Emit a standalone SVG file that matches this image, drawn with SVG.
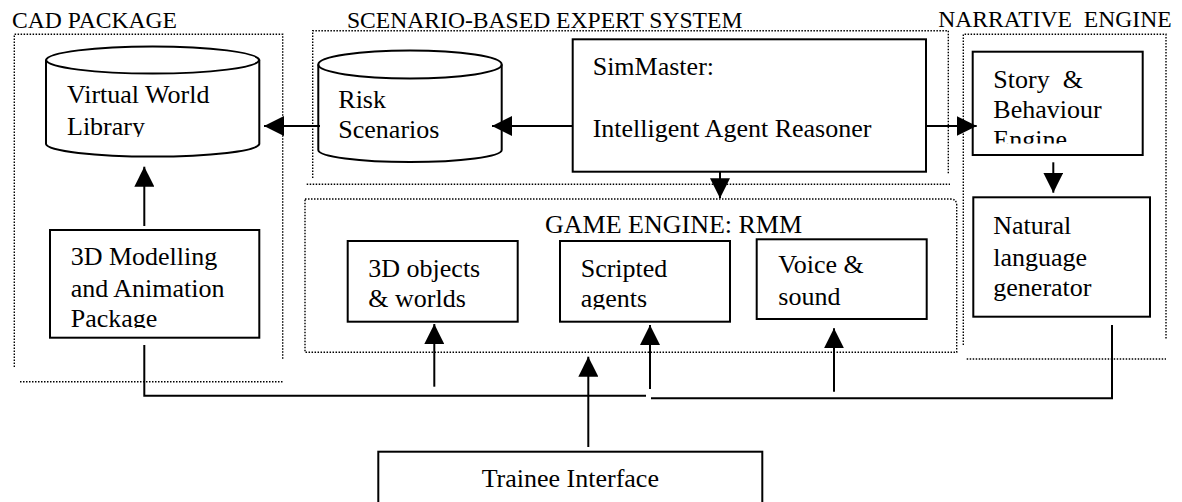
<svg xmlns="http://www.w3.org/2000/svg" width="1182" height="502" viewBox="0 0 1182 502" font-family="'Liberation Serif','Times New Roman',serif">
<style>
text{font-family:"Liberation Serif","Times New Roman",serif;fill:#000}
.h{font-size:23.6px}
.t{font-size:26px}
.box{fill:#fff;stroke:#000;stroke-width:2}
.dot{fill:none;stroke:#000;stroke-width:1.4;stroke-dasharray:1.5 1.5}
.ln{fill:none;stroke:#000;stroke-width:2}
</style>
<defs>
<marker id="ah" markerUnits="userSpaceOnUse" markerWidth="20" markerHeight="20" refX="20" refY="10" orient="auto">
<path d="M0,0 L20,10 L0,20 z" fill="#000"/>
</marker>
<clipPath id="cVWL"><rect x="40" y="40" width="230" height="97"/></clipPath>
<clipPath id="cMod"><rect x="50" y="230" width="210" height="98"/></clipPath>
<clipPath id="cStory"><rect x="972" y="52" width="170" height="91.5"/></clipPath>
<clipPath id="cScr"><rect x="560" y="241" width="170" height="68.5"/></clipPath>
</defs>

<g id="groups">
<text class="h" x="12" y="28.3">CAD PACKAGE</text>
<path class="dot" d="M14.3,367 V34.3 H282.7 V360"/>
<path class="dot" d="M20,381.7 H284"/>
<text class="h" x="347" y="28.3">SCENARIO-BASED EXPERT SYSTEM</text>
<path class="dot" d="M312.7,178 V30.7 H948.3 V174"/>
<path class="dot" d="M306.7,184.3 H950"/>
<text class="h" x="938.3" y="26.7" xml:space="preserve">NARRATIVE  ENGINE</text>
<path class="dot" d="M963.3,345 V34.3 H1166 V339.3"/>
<path class="dot" d="M966.7,359 H1166"/>
</g>

<g id="game-engine">
<path class="dot" d="M305,199 H950 Q956.7,199 956.7,205 V352.3 H305 Z"/>
<text class="t" x="545" y="233.3">GAME ENGINE: RMM</text>
</g>

<g id="virtual-world-library">
<path class="box" d="M46,60 A106.7,14 0 0 1 259.3,60 V144 A106.7,13 0 0 1 46,144 Z"/>
<path class="ln" d="M46,60 A106.7,14 0 0 0 259.3,60"/>
<g clip-path="url(#cVWL)">
<text class="t" x="67" y="103.3">Virtual World</text>
<text class="t" x="67" y="135">Library</text>
</g>
</g>

<g id="modelling-package">
<rect class="box" x="50" y="230" width="209.3" height="107.7"/>
<g clip-path="url(#cMod)">
<text class="t" x="70.7" y="265">3D Modelling</text>
<text class="t" x="70.7" y="296.7">and Animation</text>
<text class="t" x="70.7" y="326.7">Package</text>
</g>
</g>

<g id="risk-scenarios">
<path class="box" d="M318.3,64.5 A91.7,14 0 0 1 501.7,64.5 V150 A91.7,12 0 0 1 318.3,150 Z"/>
<path class="ln" d="M318.3,64.5 A91.7,14 0 0 0 501.7,64.5"/>
<text class="t" x="338.3" y="108.3">Risk</text>
<text class="t" x="338.3" y="138.3">Scenarios</text>
</g>

<g id="simmaster">
<rect class="box" x="572.7" y="39.3" width="353.3" height="132.4"/>
<text class="t" x="592.7" y="75">SimMaster:</text>
<text class="t" x="592.7" y="136.7">Intelligent Agent Reasoner</text>
</g>

<g id="story-engine">
<rect class="box" x="972.7" y="51.7" width="170" height="103.3"/>
<g clip-path="url(#cStory)">
<text class="t" x="993.3" y="88.3" xml:space="preserve">Story  &amp;</text>
<text class="t" x="993.3" y="118.3">Behaviour</text>
<text class="t" x="993.3" y="148">Engine</text>
</g>
</g>

<g id="nl-generator">
<rect class="box" x="973.3" y="197.3" width="176.7" height="119.4"/>
<text class="t" x="993.3" y="234">Natural</text>
<text class="t" x="993.3" y="265.5">language</text>
<text class="t" x="993.3" y="296">generator</text>
</g>

<g id="objects-worlds">
<rect class="box" x="347.7" y="241" width="170" height="80.7"/>
<text class="t" x="368.3" y="276.7">3D objects</text>
<text class="t" x="368.3" y="307.3">&amp; worlds</text>
</g>

<g id="scripted-agents">
<rect class="box" x="560" y="241" width="170" height="80.7"/>
<g clip-path="url(#cScr)">
<text class="t" x="580.7" y="276.7">Scripted</text>
<text class="t" x="580.7" y="307.3">agents</text>
</g>
</g>

<g id="voice-sound">
<rect class="box" x="756.7" y="239.3" width="170" height="79.7"/>
<text class="t" x="778.3" y="273.3">Voice &amp;</text>
<text class="t" x="778.3" y="305">sound</text>
</g>

<g id="trainee-interface">
<rect class="box" x="378.3" y="451.7" width="384" height="60"/>
<text class="t" x="570.3" y="487.3" text-anchor="middle">Trainee Interface</text>
</g>

<g id="connectors">
<path class="ln" d="M572.7,126 H492" marker-end="url(#ah)"/>
<path class="ln" d="M320,126 H264" marker-end="url(#ah)"/>
<path class="ln" d="M144.3,226 V166.7" marker-end="url(#ah)"/>
<path class="ln" d="M720,171.7 V198.3" marker-end="url(#ah)"/>
<path class="ln" d="M926,126 H976.7" marker-end="url(#ah)"/>
<path class="ln" d="M1053.3,162.3 V192.7" marker-end="url(#ah)"/>
<path class="ln" d="M144.3,345 V395.7 H646"/>
<path class="ln" d="M651,398.3 H1112 V325"/>
<path class="ln" d="M588.3,447 V356.7" marker-end="url(#ah)"/>
<path class="ln" d="M434.3,386.7 V324" marker-end="url(#ah)"/>
<path class="ln" d="M650,389 V325" marker-end="url(#ah)"/>
<path class="ln" d="M834,391.7 V328.3" marker-end="url(#ah)"/>
</g>
</svg>
